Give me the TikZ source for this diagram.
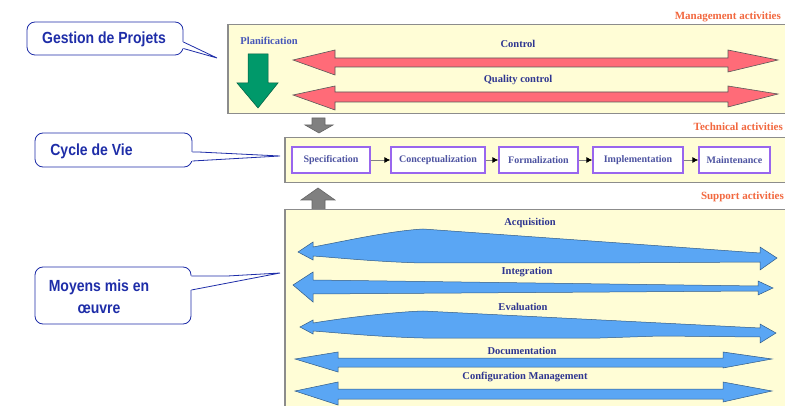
\documentclass[tikz,border=0pt]{standalone}
\usepackage{fontspec}
\setmainfont{Liberation Serif}
\newfontfamily\calloutfont{Liberation Sans}
\usetikzlibrary{arrows.meta}

\definecolor{panel}{HTML}{FFFDD6}
\definecolor{panelrule}{HTML}{8C8C8C}
\definecolor{headingcol}{HTML}{F2683F}
\definecolor{labelblue}{HTML}{2E3590}
\definecolor{planblue}{HTML}{4656B8}
\definecolor{calloutblue}{HTML}{1E2DA8}
\definecolor{ctrlred}{HTML}{FF6B78}
\definecolor{plangreen}{HTML}{00996A}
\definecolor{supportblue}{HTML}{5AA6F4}
\definecolor{stepviolet}{HTML}{9966EE}
\definecolor{flowgray}{HTML}{808080}

\newcommand{\tallcallout}[1]{\scalebox{1}[1.15]{#1}}

\tikzset{
  panelbox/.style={fill=panel, draw=panelrule, line width=1.5pt, inner sep=0pt, anchor=north west},
  heading/.style={font=\bfseries\fontsize{11}{13}\selectfont, text=headingcol, anchor=east, inner sep=0pt},
  actlabel/.style={font=\bfseries\fontsize{10.5}{12}\selectfont, text=labelblue, inner sep=0pt},
  stepbox/.style={draw=stepviolet, line width=1.3pt, fill=white, minimum height=26pt, inner sep=0pt,
    font=\bfseries\fontsize{10}{12}\selectfont, text=labelblue!85!white},
  stepflow/.style={draw=flowgray, line width=0.8pt, -{Latex[length=6pt,width=6pt,color=black]}},
  callout/.style={draw=calloutblue, line width=0.8pt, fill=white, rounded corners=8pt, inner sep=0pt},
  callouttail/.style={draw=calloutblue, line width=0.8pt},
  callouttext/.style={font=\calloutfont\bfseries\fontsize{14}{22}\selectfont, text=calloutblue, align=center, inner sep=0pt},
  redarrow/.style={fill=ctrlred, draw=black!65, line width=0.6pt},
  bluearrow/.style={fill=supportblue, draw=black!45!supportblue, line width=0.5pt},
  grayarrow/.style={fill=flowgray, draw=black!60, line width=0.6pt},
  greenarrow/.style={fill=plangreen, draw=black!40!plangreen, line width=0.5pt},
}

\begin{document}
\begin{tikzpicture}[x=1pt, y=-1pt]
\useasboundingbox (0,0) rectangle (785,406);
\clip (0,0) rectangle (785,406);
\fill[white] (0,0) rectangle (785,406);

% ---- three activity panels
\node[panelbox, minimum width=562pt, minimum height=89pt] (mgmt) at (227,24) {};
\node[panelbox, minimum width=506pt, minimum height=45pt] (tech) at (284,137) {};
\node[panelbox, minimum width=506pt, minimum height=205pt] (support) at (284,209) {};

\node[heading] (mgmthead) at (781,17) {Management activities};
\node[heading] (techhead) at (783,127) {Technical activities};
\node[heading] (supphead) at (784,197) {Support activities};

% ---- management activities
\node[actlabel, text=planblue] (plan) at (269,41) {Planification};
\path[greenarrow] (248,54) -- (268,54) -- (268,83) -- (278,83) -- (258,108) -- (237,83) -- (248,83) -- cycle;

\node[actlabel] (control) at (518,44) {Control};
\path[redarrow] (293,60) -- (335,50) -- (335,58) -- (728,58) -- (728,50) -- (778,60)
  -- (728,72) -- (728,67) -- (335,67) -- (335,75) -- cycle;

\node[actlabel] (quality) at (518,80) {Quality control};
\path[redarrow] (293,95) -- (335,86) -- (335,92) -- (728,92) -- (728,86) -- (778,94)
  -- (728,107) -- (728,102) -- (335,102) -- (335,110) -- cycle;

% ---- flow between panels
\path[grayarrow] (312,118) -- (325,118) -- (325,125) -- (333,125) -- (319,133) -- (305,125) -- (312,125) -- cycle;
\path[grayarrow] (312,209) -- (312,200) -- (301,200) -- (318,188) -- (335,200) -- (325,200) -- (325,209);

% ---- technical activities (life cycle)
\node[stepbox, minimum width=78pt] (spec) at (331,160) {Specification};
\node[stepbox, minimum width=94pt] (concept) at (438,160) {Conceptualization};
\node[stepbox, minimum width=79pt] (formal) at (538.5,160) {Formalization};
\node[stepbox, minimum width=90pt] (impl) at (638,160) {Implementation};
\node[stepbox, minimum width=71pt] (maint) at (734.5,160) {Maintenance};
\draw[stepflow] (spec.east) -- (concept.west);
\draw[stepflow] (concept.east) -- (formal.west);
\draw[stepflow] (formal.east) -- (impl.west);
\draw[stepflow] (impl.east) -- (maint.west);

% ---- support activities
\node[actlabel] (acq) at (530,223) {Acquisition};
\path[bluearrow] (298,252) -- (313,242) -- (313,247) .. controls (350,240) and (390,231) .. (423,229)
  -- (760,253) -- (760,247) -- (777,258) -- (760,270) -- (760,262) -- (600,263) -- (423,263)
  .. controls (380,262) and (340,258) .. (313,256) -- (313,260) -- cycle;

\node[actlabel] (integ) at (527,272) {Integration};
\path[bluearrow] (293,285) -- (313,272) -- (313,280) -- (758,286) -- (758,281) -- (773,288)
  -- (758,295) -- (758,291) -- (313,294) -- (313,302) -- cycle;

\node[actlabel] (evalu) at (523,307) {Evaluation};
\path[bluearrow] (300,327) -- (313,320) -- (313,323) .. controls (350,317) and (395,312) .. (423,311)
  -- (760,328) -- (760,324) -- (776,333) -- (760,343) -- (760,337) -- (660,336) -- (600,338) -- (423,338)
  .. controls (380,337) and (340,333) .. (313,331) -- (313,334) -- cycle;

\node[actlabel] (docu) at (522,351) {Documentation};
\path[bluearrow] (295,359) -- (338,352) -- (338,358) -- (723,358) -- (723,352) -- (772,359)
  -- (723,368) -- (723,367) -- (338,367) -- (338,372) -- cycle;

\node[actlabel] (config) at (525,377) {Configuration Management};
\path[bluearrow] (295,391) -- (338,382) -- (338,389) -- (723,389) -- (723,382) -- (772,391)
  -- (723,402) -- (723,399) -- (338,399) -- (338,405) -- cycle;

% ---- callouts
\node[callout, minimum width=156pt, minimum height=33pt] (gestion) at (105,38.5) {};
\node[callouttext] (gestiontext) at (104,39) {\tallcallout{Gestion de Projets}};
\coordinate (gestiontip) at (217,58);
\fill[white] ([xshift=-1.2pt, yshift=-3.5pt]gestion.east) -- (gestiontip) -- ([xshift=-1.2pt, yshift=-10pt]gestion.east) -- cycle;
\draw[callouttail] ([yshift=-3.5pt]gestion.east) -- (gestiontip) -- ([yshift=-10pt]gestion.east);

\node[callout, minimum width=157pt, minimum height=34pt] (cycle) at (113.5,150) {};
\node[callouttext] (cycletext) at (91.5,151) {\tallcallout{Cycle de Vie}};
\coordinate (cycletip) at (280,156);
\fill[white] ([xshift=-1.2pt, yshift=-2pt]cycle.east) -- (cycletip) -- ([xshift=-1.2pt, yshift=-11pt]cycle.east) -- cycle;
\draw[callouttail] ([yshift=-2pt]cycle.east) -- ++(6,0) -- (cycletip) -- ([yshift=-11pt]cycle.east);

\node[callout, minimum width=156pt, minimum height=57pt] (moyens) at (113,295.5) {};
\node[callouttext] (moyenstext) at (99,297) {\tallcallout{Moyens mis en}\\\tallcallout{œuvre}};
\coordinate (moyenstip) at (280,273);
\fill[white] ([xshift=-1.2pt, yshift=19.5pt]moyens.east) -- ++(36,0) -- (moyenstip) -- ([xshift=-1.2pt, yshift=5.5pt]moyens.east) -- cycle;
\draw[callouttail] ([yshift=19.5pt]moyens.east) -- ++(36,0) -- (moyenstip) -- ([yshift=5.5pt]moyens.east);
\end{tikzpicture}
\end{document}
